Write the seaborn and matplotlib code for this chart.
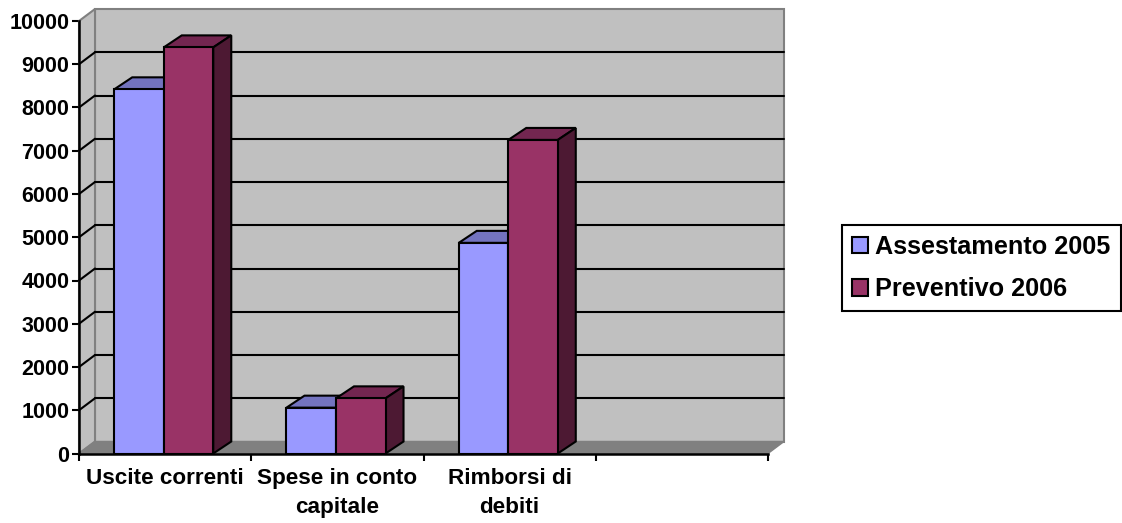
import numpy as np
import pandas as pd
import matplotlib
matplotlib.use("Agg")
import matplotlib.pyplot as plt
from matplotlib.patches import Polygon
import seaborn as sns

categories = ["Uscite correnti", "Spese in conto\ncapitale", "Rimborsi di\ndebiti"]
assestamento_2005 = [8420, 1060, 4870]
preventivo_2006 = [9390, 1275, 7250]
series_names = ["Assestamento 2005", "Preventivo 2006"]
y_ticks = list(range(0, 10001, 1000))

colors = ["#9999FF", "#993366"]
top_colors = ["#7373BF", "#732650"]
side_colors = ["#4D4D80", "#4D1933"]

sns.set_style("white")
plt.rcParams["font.family"] = ["Liberation Sans", "DejaVu Sans"]
plt.rcParams["font.weight"] = "bold"
plt.rcParams["text.color"] = "black"
plt.rcParams["xtick.labelcolor"] = "black"
plt.rcParams["ytick.labelcolor"] = "black"

W, H = 1122, 523
LW = 1.5
fig = plt.figure(figsize=(W / 100, H / 100), dpi=100)
ax = fig.add_axes([79 / W, (H - 453.5) / H, 689 / W, 432.5 / H])

df = pd.DataFrame({
    "categoria": categories * 2,
    "serie": [series_names[0]] * 3 + [series_names[1]] * 3,
    "valore": assestamento_2005 + preventivo_2006,
})
sns.barplot(data=df, x="categoria", y="valore", hue="serie", palette=colors,
            width=0.575, saturation=1, edgecolor="black", linewidth=LW,
            ax=ax, legend=False, zorder=10)

x0, x1 = -0.5, 3.5
ax.set_xlim(x0, x1)
ax.set_ylim(0, 10000)
ax.patch.set_alpha(0)

# depth of the fake 3D box, in data units
dx = 16 * (x1 - x0) / 689
dy = 12 * 10000 / 432.5
bar_dx = 18 * (x1 - x0) / 689

# walls and floor
wall_kw = dict(clip_on=False, zorder=1, edgecolor="#808080", linewidth=1.5)
ax.add_patch(Polygon([(x0 + dx, dy), (x1 + dx, dy), (x1 + dx, 10000 + dy), (x0 + dx, 10000 + dy)],
                     facecolor="#C0C0C0", **wall_kw))
ax.add_patch(Polygon([(x0, 0), (x0 + dx, dy), (x0 + dx, 10000 + dy), (x0, 10000)],
                     facecolor="#C0C0C0", **wall_kw))
ax.add_patch(Polygon([(x0, 0), (x1, 0), (x1 + dx, dy), (x0 + dx, dy)],
                     facecolor="#808080", clip_on=False, zorder=2, edgecolor="#808080"))

# gridlines on back wall and the diagonal bit on the side wall
for t in y_ticks[1:-1]:
    ax.plot([x0 + dx, x1 + dx], [t + dy, t + dy], color="black", lw=LW, clip_on=False, zorder=3)
    ax.plot([x0, x0 + dx], [t, t + dy], color="black", lw=LW, clip_on=False, zorder=3)

# top and side of each bar
for s, container in enumerate(ax.containers):
    for bar in container:
        bar.set_x(bar.get_x() - 0.008)  # reference group sits a hair left of slot centre
        left, w, h = bar.get_x(), bar.get_width(), bar.get_height()
        right = left + w
        z = 5 + s * 2
        bar.set_zorder(z + 1)
        ax.add_patch(Polygon([(left, h), (right, h), (right + bar_dx, h + dy), (left + bar_dx, h + dy)],
                             facecolor=top_colors[s], edgecolor="black", linewidth=LW,
                             clip_on=False, zorder=z))
        ax.add_patch(Polygon([(right, 0), (right + bar_dx, dy), (right + bar_dx, h + dy), (right, h)],
                             facecolor=side_colors[s], edgecolor="black", linewidth=LW,
                             clip_on=False, zorder=z))

sns.despine(ax=ax)
ax.spines["left"].set_linewidth(1.8)
ax.spines["bottom"].set_linewidth(1.8)
ax.spines["left"].set_color("black")
ax.spines["bottom"].set_color("black")
ax.spines["left"].set_zorder(20)
ax.spines["bottom"].set_zorder(20)
ax.set_xlabel("")
ax.set_ylabel("")

ax.set_yticks(y_ticks)
ax.tick_params(axis="y", left=True, length=5, width=LW, color="black", labelsize=15.5, pad=2)
ax.set_xticks(np.arange(x0, x1 + 0.5), minor=True)
ax.tick_params(axis="x", which="minor", bottom=True, length=5, width=LW, color="black")
ax.tick_params(axis="x", which="major", bottom=False, labelsize=16.2, pad=7)
for lab in ax.get_xticklabels():
    lab.set_linespacing(1.5)
    lab.set_fontweight("bold")

# legend
handles = [plt.Rectangle((0, 0), 1, 1, facecolor=c, edgecolor="black", linewidth=LW) for c in colors]
leg = fig.legend(handles, series_names, loc="upper left",
                 bbox_to_anchor=(842 / W, 1 - 225 / H), bbox_transform=fig.transFigure,
                 fontsize=18.2, frameon=True, fancybox=False, edgecolor="black", framealpha=1,
                 handlelength=0.62, handleheight=0.62, handletextpad=0.3, labelspacing=0.72,
                 borderpad=0.4, borderaxespad=0)
leg.get_frame().set_linewidth(1.5)

fig.savefig("out.png", dpi=100)
